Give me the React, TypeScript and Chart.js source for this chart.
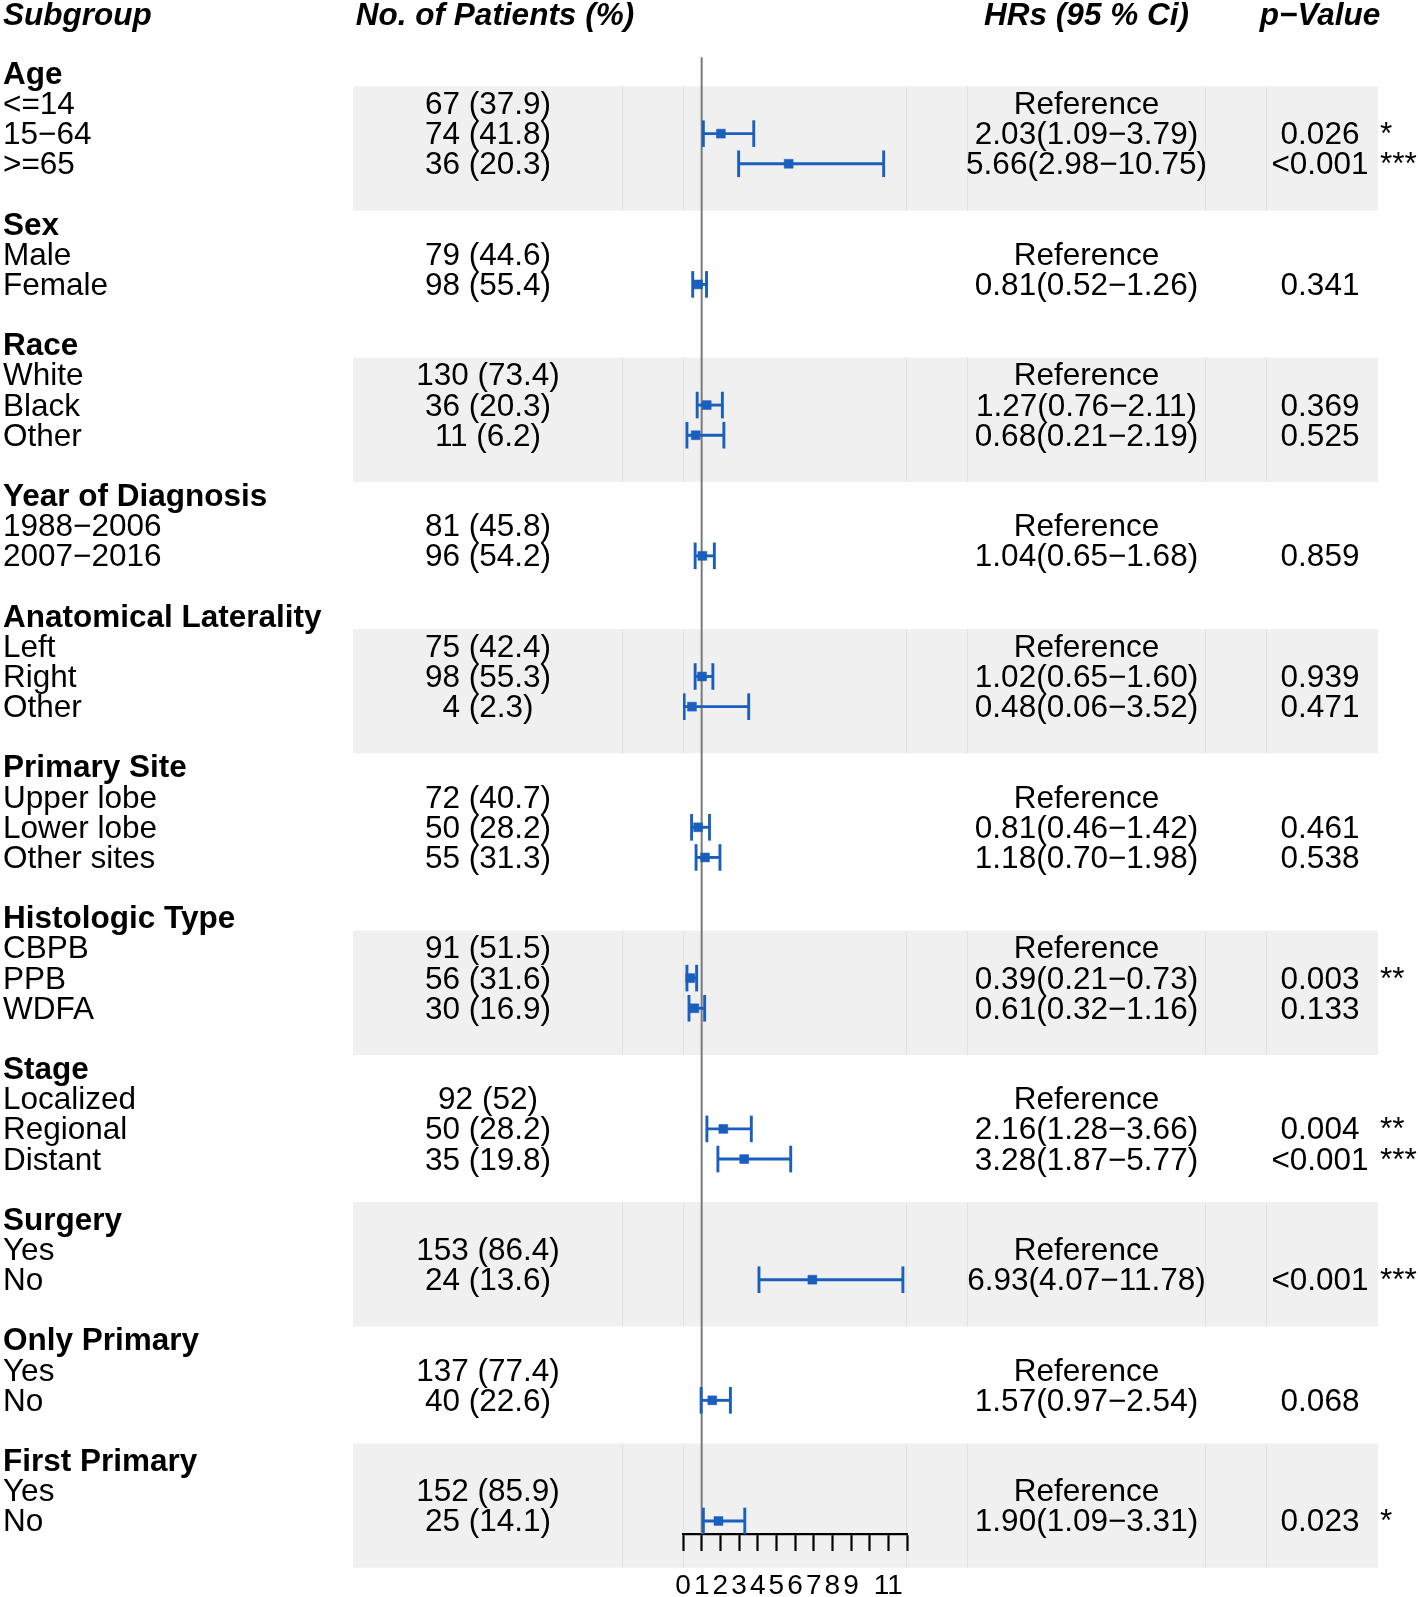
import React, { useEffect, useRef } from "react";
import { Chart, registerables } from "chart.js";

Chart.register(...registerables);

// ---------------- data ----------------
const groupNames = [
  "Age",
  "Sex",
  "Race",
  "Year of Diagnosis",
  "Anatomical Laterality",
  "Primary Site",
  "Histologic Type",
  "Stage",
  "Surgery",
  "Only Primary",
  "First Primary",
];

const subgroupLabels = [
  ["<=14", "15\u221264", ">=65"],
  ["Male", "Female"],
  ["White", "Black", "Other"],
  ["1988\u22122006", "2007\u22122016"],
  ["Left", "Right", "Other"],
  ["Upper lobe", "Lower lobe", "Other sites"],
  ["CBPB", "PPB", "WDFA"],
  ["Localized", "Regional", "Distant"],
  ["Yes", "No"],
  ["Yes", "No"],
  ["Yes", "No"],
];

const patientCounts = [
  [67, 74, 36],
  [79, 98],
  [130, 36, 11],
  [81, 96],
  [75, 98, 4],
  [72, 50, 55],
  [91, 56, 30],
  [92, 50, 35],
  [153, 24],
  [137, 40],
  [152, 25],
];

const patientPercents = [
  [37.9, 41.8, 20.3],
  [44.6, 55.4],
  [73.4, 20.3, 6.2],
  [45.8, 54.2],
  [42.4, 55.3, 2.3],
  [40.7, 28.2, 31.3],
  [51.5, 31.6, 16.9],
  [52, 28.2, 19.8],
  [86.4, 13.6],
  [77.4, 22.6],
  [85.9, 14.1],
];

const hazardRatios = [
  [null, 2.03, 5.66],
  [null, 0.81],
  [null, 1.27, 0.68],
  [null, 1.04],
  [null, 1.02, 0.48],
  [null, 0.81, 1.18],
  [null, 0.39, 0.61],
  [null, 2.16, 3.28],
  [null, 6.93],
  [null, 1.57],
  [null, 1.9],
];

const ciLower = [
  [null, 1.09, 2.98],
  [null, 0.52],
  [null, 0.76, 0.21],
  [null, 0.65],
  [null, 0.65, 0.06],
  [null, 0.46, 0.7],
  [null, 0.21, 0.32],
  [null, 1.28, 1.87],
  [null, 4.07],
  [null, 0.97],
  [null, 1.09],
];

const ciUpper = [
  [null, 3.79, 10.75],
  [null, 1.26],
  [null, 2.11, 2.19],
  [null, 1.68],
  [null, 1.6, 3.52],
  [null, 1.42, 1.98],
  [null, 0.73, 1.16],
  [null, 3.66, 5.77],
  [null, 11.78],
  [null, 2.54],
  [null, 3.31],
];

const pValues = [
  [null, "0.026", "<0.001"],
  [null, "0.341"],
  [null, "0.369", "0.525"],
  [null, "0.859"],
  [null, "0.939", "0.471"],
  [null, "0.461", "0.538"],
  [null, "0.003", "0.133"],
  [null, "0.004", "<0.001"],
  [null, "<0.001"],
  [null, "0.068"],
  [null, "0.023"],
];

const columnTitles = ["Subgroup", "No. of Patients (%)", "HRs (95 % Ci)", "p\u2212Value"];
const referenceLabel = "Reference";
const xTickValues = [0, 1, 2, 3, 4, 5, 6, 7, 8, 9, 10, 11, 12];
const xTickLabels = ["0", "1", "2", "3", "4", "5", "6", "7", "8", "9", "", "11", ""];
const nullLine = 1;

// ---------------- layout / style ----------------
const W = 1418;
const H = 1597;
const FONT = '"Liberation Sans", Arial, Helvetica, sans-serif';
const FS = 31.5;
const BLUE = "#1a5fbd";
const BAND = "#f0f0f0";
const SEP = "#e2e2e2";
const ROW0_PX = 73.3;
const ROW_H = 30.16;
const TITLE_ROW = -1.95;
const REFLINE_TOP_ROW = -0.53;

const COL = {
  subX: 3,
  nCenter: 488,
  nTitleCenter: 495,
  hrCenter: 1086.5,
  pCenter: 1320,
  starX: 1380,
  bandLeft: 353,
  bandRight: 1378,
  seps: [622.5, 967.5, 1205.5, 1266.5],
};

function fmtStars(p: string) {
  if (p.startsWith("<")) return "***";
  const v = parseFloat(p);
  if (v < 0.001) return "***";
  if (v < 0.01) return "**";
  if (v < 0.05) return "*";
  return "";
}

type RowInfo = { header: number; items: number[] };
function buildRows(): RowInfo[] {
  const out: RowInfo[] = [];
  let r = 0;
  groupNames.forEach((_, g) => {
    const n = subgroupLabels[g].length;
    const items: number[] = [];
    for (let i = 0; i < n; i++) items.push(r + 1 + i);
    out.push({ header: r, items });
    r += n + 2;
  });
  return out;
}

export default function App() {
  const ref = useRef<HTMLCanvasElement | null>(null);

  useEffect(() => {
    document.body.style.margin = "0";
    document.body.style.overflow = "hidden";
    const canvas = ref.current;
    if (!canvas) return;
    const rows = buildRows();

    const datasets: any[] = [];
    const refLine: any = {
      type: "scatter",
      data: [
        { x: nullLine, y: REFLINE_TOP_ROW },
        { x: nullLine, y: 60 },
      ],
      showLine: true,
      borderColor: "#7a7a7a",
      borderWidth: 2,
      pointRadius: 0,
      order: 10,
    };
    datasets.push(refLine);
    const caps: any[] = [];
    const pts: any[] = [];
    groupNames.forEach((_, g) => {
      rows[g].items.forEach((r, i) => {
        const hr = hazardRatios[g][i];
        const lo = ciLower[g][i];
        const hi = ciUpper[g][i];
        if (hr == null || lo == null || hi == null) return;
        datasets.push({
          type: "scatter",
          data: [
            { x: lo, y: r },
            { x: hi, y: r },
          ],
          showLine: true,
          borderColor: BLUE,
          borderWidth: 2.9,
          pointRadius: 0,
          order: 5,
        });
        caps.push({ x: lo, y: r }, { x: hi, y: r });
        pts.push({ x: hr, y: r });
      });
    });
    datasets.push({
      type: "scatter",
      data: caps,
      pointStyle: "line",
      rotation: 90,
      radius: 13.3,
      borderColor: BLUE,
      borderWidth: 2.9,
      order: 4,
    });
    datasets.push({
      type: "scatter",
      data: pts,
      pointStyle: "rect",
      radius: 6.3,
      backgroundColor: BLUE,
      borderColor: BLUE,
      borderWidth: 0.5,
      order: 1,
    });

    const bandPlugin = {
      id: "bands",
      beforeDraw(chart: any) {
        const ctx = chart.ctx;
        const ys = chart.scales.y;
        const xs = chart.scales.x;
        ctx.save();
        ctx.fillStyle = "#ffffff";
        ctx.fillRect(0, 0, W, H);
        rows.forEach((row, g) => {
          if (g % 2 !== 0) return;
          const last = row.items[row.items.length - 1];
          const y1 = ys.getPixelForValue(last + 1.55 - 4.12);
          const y2 = ys.getPixelForValue(last + 1.55);
          ctx.fillStyle = BAND;
          ctx.fillRect(COL.bandLeft, y1, COL.bandRight - COL.bandLeft, y2 - y1);
          ctx.strokeStyle = SEP;
          ctx.lineWidth = 1;
          const seps = [...COL.seps, xs.getPixelForValue(0) + 0.5, xs.getPixelForValue(12) - 0.5];
          seps.forEach((sx) => {
            ctx.beginPath();
            ctx.moveTo(sx, y1);
            ctx.lineTo(sx, y2);
            ctx.stroke();
          });
        });
        ctx.restore();
      },
    };

    const textPlugin = {
      id: "texts",
      afterDraw(chart: any) {
        const ctx = chart.ctx;
        const ys = chart.scales.y;
        const base = (r: number) => ys.getPixelForValue(r) + FS * 0.358 - 0.8;
        ctx.save();
        ctx.fillStyle = "#000";
        ctx.textBaseline = "alphabetic";
        ctx.font = `italic bold ${FS}px ${FONT}`;
        const ty = base(TITLE_ROW);
        ctx.textAlign = "left";
        ctx.fillText(columnTitles[0], COL.subX, ty);
        ctx.textAlign = "center";
        ctx.fillText(columnTitles[1], COL.nTitleCenter, ty);
        ctx.fillText(columnTitles[2], COL.hrCenter, ty);
        ctx.fillText(columnTitles[3], COL.pCenter, ty);

        rows.forEach((row, g) => {
          ctx.font = `bold ${FS}px ${FONT}`;
          ctx.textAlign = "left";
          ctx.fillText(groupNames[g], COL.subX, base(row.header));
          ctx.font = `${FS}px ${FONT}`;
          row.items.forEach((r, i) => {
            const b = base(r);
            ctx.textAlign = "left";
            ctx.fillText(subgroupLabels[g][i], COL.subX, b);
            ctx.textAlign = "center";
            ctx.fillText(`${patientCounts[g][i]} (${patientPercents[g][i]})`, COL.nCenter, b);
            const hr = hazardRatios[g][i];
            const lo = ciLower[g][i];
            const hi = ciUpper[g][i];
            if (hr == null || lo == null || hi == null) {
              ctx.fillText(referenceLabel, COL.hrCenter, b);
            } else {
              ctx.fillText(`${hr.toFixed(2)}(${lo.toFixed(2)}\u2212${hi.toFixed(2)})`, COL.hrCenter, b);
            }
            const p = pValues[g][i];
            if (p != null) {
              ctx.fillText(p, COL.pCenter, b);
              const s = fmtStars(p);
              if (s) {
                ctx.textAlign = "left";
                ctx.fillText(s, COL.starX, b);
              }
            }
          });
        });
        ctx.restore();
      },
    };

    const chart: any = new Chart(canvas, {
      type: "scatter",
      data: { datasets },
      options: {
        animation: false,
        responsive: false,
        devicePixelRatio: 1,
        events: [],
        layout: { autoPadding: false, padding: { left: 683, right: W - 907, top: 0, bottom: -24 } },
        plugins: { legend: { display: false }, tooltip: { enabled: false } },
        scales: {
          x: {
            type: "linear",
            position: "bottom",
            min: 0,
            max: 12,
            afterBuildTicks: (scale: any) => {
              scale.ticks = xTickValues.map((v) => ({ value: v }));
            },
            ticks: {
              autoSkip: false,
              maxRotation: 0,
              minRotation: 0,
              padding: 21,
              color: "#000",
              font: { family: FONT, size: 28, lineHeight: 1.0 },
              callback: (v: any) => {
                const idx = xTickValues.indexOf(Number(v));
                return idx >= 0 ? xTickLabels[idx] : "";
              },
            },
            grid: {
              drawOnChartArea: false,
              drawTicks: true,
              tickLength: 17,
              tickWidth: 2.2,
              tickColor: "#000",
            },
            border: { display: true, color: "#000", width: 2.2 },
          },
          y: {
            type: "linear",
            display: false,
            reverse: true,
            min: -2,
            max: 50,
          },
        },
      },
      plugins: [bandPlugin, textPlugin],
    } as any);

    // map rows to pixels: row r -> ROW0_PX + r * ROW_H
    const area = chart.chartArea;
    const yMin = (area.top - ROW0_PX) / ROW_H;
    const yMax = (area.bottom - ROW0_PX) / ROW_H;
    chart.options.scales.y.min = yMin;
    chart.options.scales.y.max = yMax;
    refLine.data[1].y = yMax;
    chart.update();

    return () => chart.destroy();
  }, []);

  return (
    <canvas ref={ref} width={W} height={H} style={{ display: "block", width: W, height: H }} />
  );
}
